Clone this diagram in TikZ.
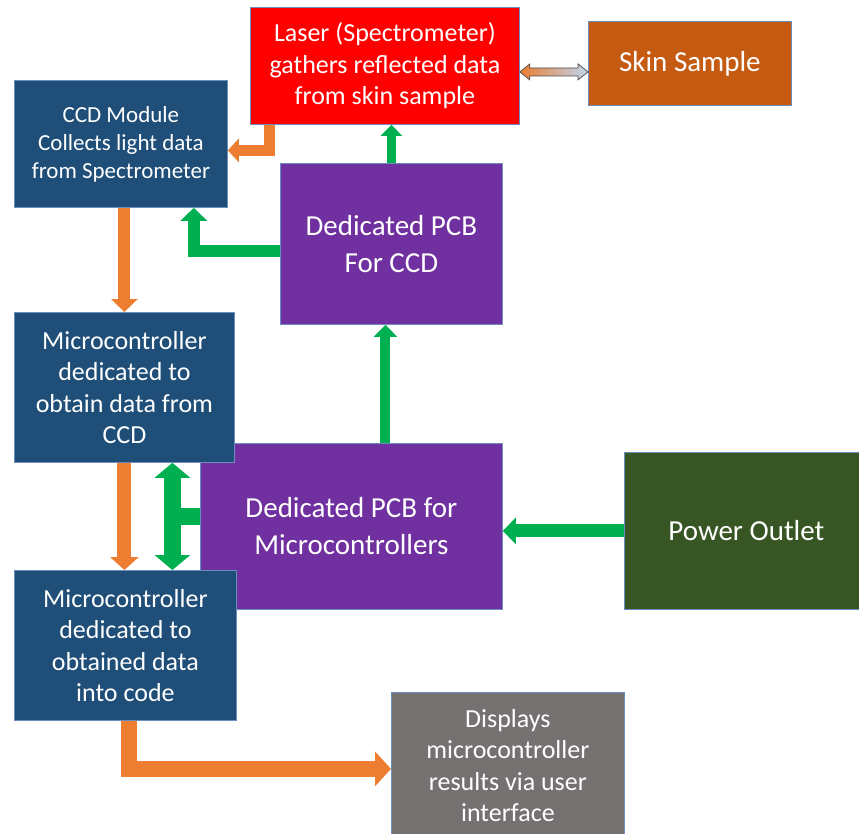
\documentclass[tikz,border=0pt]{standalone}
\usepackage{fontspec}
\setmainfont{Carlito}
\usetikzlibrary{arrows.meta,calc}
\definecolor{dblue}{HTML}{1F4E79}
\definecolor{laserred}{HTML}{FF0000}
\definecolor{skinc}{HTML}{C55A11}
\definecolor{pcbpurple}{HTML}{7030A0}
\definecolor{powerg}{HTML}{375623}
\definecolor{dispgray}{HTML}{767171}
\definecolor{arrO}{HTML}{ED7D31}
\definecolor{arrG}{HTML}{00B050}
\definecolor{bordc}{HTML}{6C8EBF}
\definecolor{lblue}{HTML}{BDD7EE}
\newcommand{\fsz}[2]{\fontsize{#1}{#2}\selectfont}
\begin{document}
\begin{tikzpicture}[x=1pt,y=-1pt,
  box/.style={draw=bordc, line width=0.8pt, anchor=north west, inner sep=0pt, align=center, text=white},
  oarr/.style={draw=arrO, line width=12pt, line join=miter, -{Triangle[width=26pt,length=13pt]}},
  garr/.style={draw=arrG, line width=12pt, line join=miter, -{Triangle[width=26pt,length=13pt]}},
  small/.style={font=\fsz{23}{28}},
  mid/.style={font=\fsz{26}{31.5}},
  big/.style={font=\fsz{29}{37}}]
\useasboundingbox (0,0) rectangle (859,833);

\node[box, big, fill=pcbpurple, minimum width=302pt, minimum height=166pt] (pcbmicro) at (200,443) {Dedicated PCB for\\Microcontrollers};
\node[box, small, fill=dblue, minimum width=213pt, minimum height=127pt] (ccd) at (14,80) {CCD Module\\Collects light data\\from Spectrometer};
\node[box, mid, fill=laserred, minimum width=269pt, minimum height=117pt] (laser) at (250,7) {Laser (Spectrometer)\\gathers reflected data\\from skin sample};
\node[box, big, fill=skinc, minimum width=203pt, minimum height=84pt] (skin) at (588,21) {Skin Sample};
\node[box, big, fill=pcbpurple, minimum width=222pt, minimum height=161pt] (pcbccd) at (280,163) {Dedicated PCB\\For CCD};
\node[box, mid, fill=dblue, minimum width=220pt, minimum height=150pt] (micro1) at (14,312) {Microcontroller\\dedicated to\\obtain data from\\CCD};
\node[box, big, fill=powerg, minimum width=244pt, minimum height=157pt] (power) at (624,452) {Power Outlet};
\node[box, mid, fill=dblue, minimum width=222pt, minimum height=150pt] (micro2) at (14,570) {Microcontroller\\dedicated to\\obtained data\\into code};
\node[box, mid, fill=dispgray, minimum width=233pt, minimum height=146pt] (disp) at (391,692) {Displays\\microcontroller\\results via user\\interface};

% Laser -> CCD
\draw[oarr, line width=11pt, -{Triangle[width=23pt,length=11pt]}] ([xshift=19pt]laser.south west) |- ([yshift=-6.5pt]ccd.east);
% CCD -> Micro1
\draw[oarr] (micro1.north |- ccd.south) -- (micro1.north);
% PCB CCD -> CCD
\draw[garr] ([yshift=-7.5pt]pcbccd.west) -| ([xshift=-34pt]ccd.south east);
% PCB CCD -> Laser
\draw[garr, line width=9pt, -{Triangle[width=21pt,length=11pt]}] (pcbccd.north) -- (pcbccd.north |- laser.south);
% PCB Micro -> PCB CCD
\coordinate (p5) at ([xshift=34pt]pcbmicro.north);
\draw[garr, line width=10pt, -{Triangle[width=23pt,length=12pt]}] (p5) -- (p5 |- pcbccd.south);
% Micro1 -> Micro2
\draw[oarr, line width=14pt, -{Triangle[width=28pt,length=13pt]}] (micro1.south) -- (micro1.south |- micro2.north);
% PCB Micro <-> Micro1/Micro2
\coordinate (v1) at ([xshift=48pt]micro1.south);
\draw[garr, line width=17pt, {Triangle[width=35pt,length=15pt]}-{Triangle[width=35pt,length=15pt]}] (v1) -- (v1 |- micro2.north);
\coordinate (h1) at ([yshift=9.5pt]pcbmicro.west);
\draw[draw=arrG, line width=17pt] (h1) -- (h1 -| v1);
% Power -> PCB Micro
\draw[garr, line width=13pt] (power.west) -- (power.west -| pcbmicro.east);
% Micro2 -> Displays
\coordinate (o9) at ([xshift=4pt]micro2.south);
\coordinate (d9) at ([yshift=-3.5pt]disp.west);
\draw[oarr, line width=16pt, -{Triangle[width=34pt,length=16pt]}] (o9) |- (d9);
% Laser <-> Skin
\coordinate (ls) at ([yshift=-6pt]laser.east);
\coordinate (rs) at (ls -| skin.west);
\shade[left color=arrO, middle color=white, right color=lblue, draw=black!70, line width=0.7pt]
  (ls) -- ($(ls)+(10,-8)$) -- ($(ls)+(10,-4)$) -- ($(rs)+(-10,-4)$) -- ($(rs)+(-10,-8)$) -- (rs)
  -- ($(rs)+(-10,8)$) -- ($(rs)+(-10,4)$) -- ($(ls)+(10,4)$) -- ($(ls)+(10,8)$) -- cycle;
\end{tikzpicture}
\end{document}
